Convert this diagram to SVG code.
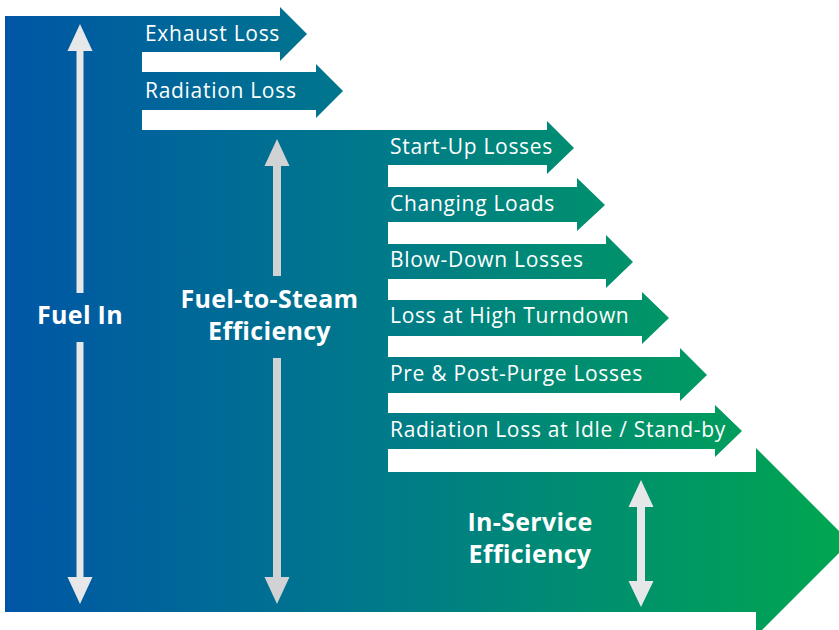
<svg xmlns="http://www.w3.org/2000/svg" width="839" height="630" viewBox="0 0 839 630">
<defs>
<linearGradient id="g" gradientUnits="userSpaceOnUse" x1="5" y1="0" x2="839" y2="0">
<stop offset="0" stop-color="#0056a6"/>
<stop offset="0.45" stop-color="#007a8a"/>
<stop offset="1" stop-color="#00a650"/>
</linearGradient>
<style>
.loss{font-family:"Open Sans","Liberation Sans",sans-serif;font-size:21px;letter-spacing:0.7px;fill:#fff}
.big{font-family:"Open Sans","Liberation Sans",sans-serif;font-size:25px;letter-spacing:0.3px;font-weight:bold;fill:#fff;text-anchor:middle}
.a1{fill:#e6e7e9}
.a2{fill:#d1d2d4}
</style>
</defs>
<rect width="839" height="630" fill="#fff"/>
<g id="flow">
<path fill="url(#g)" d="M5,16 L280,16 L280,7 L307,34 L280,61 L280,52 L142,52 L142,72 L316,72 L316,64 L343,91 L316,118 L316,110 L142,110 L142,130 L547,130 L547,121 L574,148 L547,174 L547,165 L388,165 L388,187 L577,187 L577,178 L605,205 L577,231 L577,222 L388,222 L388,244 L606,244 L606,235 L633,262 L606,288 L606,279 L388,279 L388,300 L642,300 L642,292 L669,318 L642,344 L642,336 L388,336 L388,357 L680,357 L680,348 L707,375 L680,401 L680,393 L388,393 L388,413 L715,413 L715,405 L742,431 L715,457 L715,449 L388,449 L388,472 L756,472 L756,448 L850,542 L756,636 L756,612 L5,612 Z"/>
</g>
<g id="losses">
<text class="loss" x="145" y="41">Exhaust Loss</text>
<text class="loss" x="145" y="98">Radiation Loss</text>
<text class="loss" x="390" y="154">Start-Up Losses</text>
<text class="loss" x="390" y="211">Changing Loads</text>
<text class="loss" x="390" y="267">Blow-Down Losses</text>
<text class="loss" x="390" y="323">Loss at High Turndown</text>
<text class="loss" x="390" y="381">Pre &amp; Post-Purge Losses</text>
<text class="loss" x="390" y="437">Radiation Loss at Idle / Stand-by</text>
</g>
<g id="connectors">
<path class="a1" d="M80,24 L92.5,51 L83.5,51 L83.5,293 L76.5,293 L76.5,51 L67.5,51 Z"/>
<path class="a1" d="M80,604 L92.5,577 L83.5,577 L83.5,342 L76.5,342 L76.5,577 L67.5,577 Z"/>
<path class="a2" d="M277,139 L289.5,166 L281,166 L281,276 L273,276 L273,166 L264.5,166 Z"/>
<path class="a2" d="M277,604 L289.5,577 L281,577 L281,358 L273,358 L273,577 L264.5,577 Z"/>
<path class="a1" d="M641,480 L653.5,507 L645,507 L645,581 L653.5,581 L641,607 L628.5,581 L637,581 L637,507 L628.5,507 Z"/>
</g>
<g id="fuel-in"><text class="big" x="80" y="324">Fuel In</text></g>
<g id="fuel-to-steam"><text class="big" x="269.5" y="308">Fuel-to-Steam</text><text class="big" x="269.5" y="340">Efficiency</text></g>
<g id="in-service"><text class="big" x="530" y="531">In-Service</text><text class="big" x="530" y="563">Efficiency</text></g>
</svg>
